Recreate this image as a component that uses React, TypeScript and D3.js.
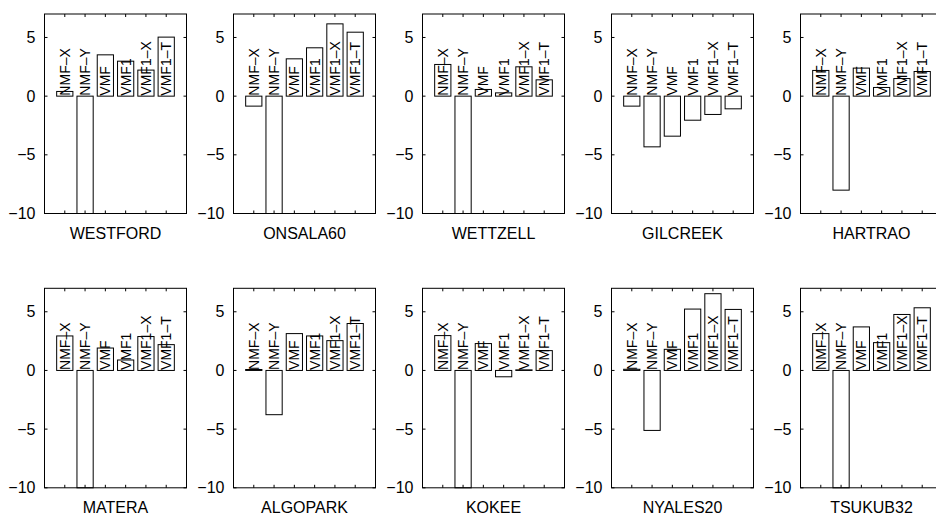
import React from "react";
import * as d3 from "d3";

const categories = ["NMF\u2013X", "NMF\u2013Y", "VMF", "VMF1", "VMF1\u2013X", "VMF1\u2013T"];
const stations = [
  "WESTFORD", "ONSALA60", "WETTZELL", "GILCREEK", "HARTRAO",
  "MATERA", "ALGOPARK", "KOKEE", "NYALES20", "TSUKUB32",
];
const westford = [0.4, -10, 3.52, 2.98, 2.22, 5.03];
const onsala60 = [-0.85, -10, 3.18, 4.12, 6.16, 5.45];
const wettzell = [2.7, -10, 0.57, 0.28, 2.5, 1.39];
const gilcreek = [-0.85, -4.32, -3.41, -2.05, -1.56, -1.08];
const hartrao = [2.19, -8.01, 2.39, 0.74, 1.5, 2.1];
const matera = [2.94, -10, 1.91, 0.89, 2.89, 2.2];
const algopark = [0.08, -3.77, 3.14, 2.94, 2.54, 4.0];
const kokee = [2.97, -10, 2.29, -0.54, 0.05, 1.69];
const nyales20 = [0.1, -5.11, 1.8, 5.23, 6.54, 5.2];
const tsukub32 = [3.14, -10, 3.71, 2.37, 4.77, 5.34];
const stationValues = [westford, onsala60, wettzell, gilcreek, hartrao, matera, algopark, kokee, nyales20, tsukub32];
const yTicks = [-10, -5, 0, 5];
const yDomain = [-10, 7];
const xDomain = [0, 7];

const W = 936, H = 515;
const FONT = "'Liberation Sans', Arial, Helvetica, sans-serif";

function Panel({ name, values, left, top }: { name: string; values: number[]; left: number; top: number }) {
  const pw = 142, ph = 199.5;
  const x = d3.scaleLinear().domain(xDomain).range([left, left + pw]);
  const y = d3.scaleLinear().domain(yDomain).range([top + ph, top]);
  const bw = x(0.8) - x(0);
  const tl = 3;
  const ids = d3.range(1, categories.length + 1);
  return (
    <g>
      {values.map((v, i) => {
        const y0 = y(0), y1 = y(v);
        return (
          <rect key={"b" + i} x={x(i + 1) - bw / 2} y={Math.min(y0, y1)} width={bw}
            height={Math.abs(y1 - y0)} fill="white" stroke="#000" strokeWidth={1} />
        );
      })}
      {categories.map((c, i) => (
        <text key={"t" + i} transform={`translate(${x(i + 1)},${y(0) - 0.5}) rotate(-90)`}
          textAnchor="start" dominantBaseline="central" fontSize={14} fontFamily={FONT} fill="#000">{c}</text>
      ))}
      <rect x={left} y={top} width={pw} height={ph} fill="none" stroke="#000" strokeWidth={1} />
      {ids.map((d) => (
        <g key={"xt" + d}>
          <line x1={x(d)} x2={x(d)} y1={top + ph} y2={top + ph - tl} stroke="#000" strokeWidth={1} />
          <line x1={x(d)} x2={x(d)} y1={top} y2={top + tl} stroke="#000" strokeWidth={1} />
        </g>
      ))}
      {yTicks.map((t) => (
        <g key={"yt" + t}>
          <line x1={left} x2={left + tl} y1={y(t)} y2={y(t)} stroke="#000" strokeWidth={1} />
          <line x1={left + pw} x2={left + pw - tl} y1={y(t)} y2={y(t)} stroke="#000" strokeWidth={1} />
          <text x={left - 9} y={y(t)} textAnchor="end" dominantBaseline="central" fontSize={16}
            fontFamily={FONT} fill="#000">{t < 0 ? "\u2212" + Math.abs(t) : String(t)}</text>
        </g>
      ))}
      <text x={left + pw / 2} y={top + ph + 25.5} textAnchor="middle" fontSize={16} fontFamily={FONT} fill="#000">{name}</text>
    </g>
  );
}

export default function App() {
  return (
    <svg width={W} height={H} style={{ position: "absolute", left: 0, top: 0, background: "#fff" }}>
      <rect width={W} height={H} fill="#fff" />
      {stations.map((s, i) => {
        const col = i % 5, row = Math.floor(i / 5);
        return <Panel key={s} name={s} values={stationValues[i]} left={44.5 + col * 189} top={14 + row * 274.3} />;
      })}
    </svg>
  );
}
